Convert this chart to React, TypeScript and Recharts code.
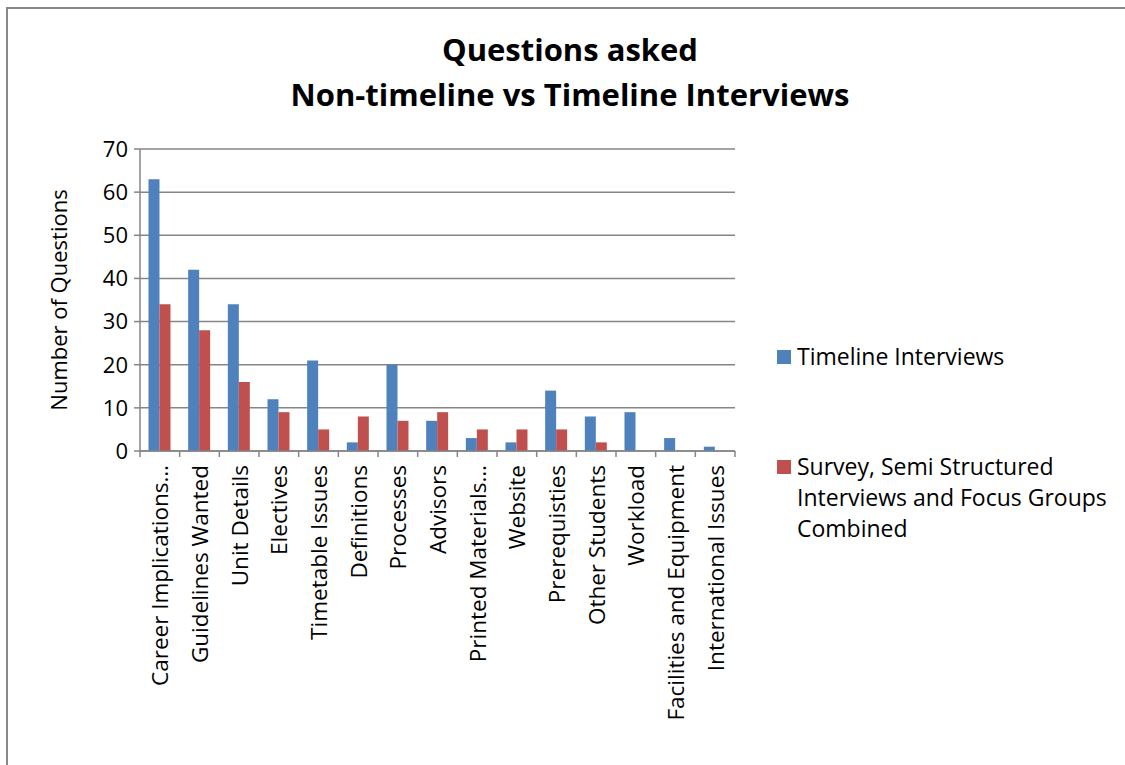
import React from "react";
import { BarChart, Bar, XAxis, YAxis, CartesianGrid, Legend } from "recharts";

// Question topics, in the order they appear along the category axis
const categories = [
  "Career Implications…",
  "Guidelines Wanted",
  "Unit Details",
  "Electives",
  "Timetable Issues",
  "Definitions",
  "Processes",
  "Advisors",
  "Printed Materials…",
  "Website",
  "Prerequisties",
  "Other Students",
  "Workload",
  "Facilities and Equipment",
  "International Issues",
];

// Number of questions per topic for each interview type
const timelineInterviews = [63, 42, 34, 12, 21, 2, 20, 7, 3, 2, 14, 8, 9, 3, 1];
const surveyCombined = [34, 28, 16, 9, 5, 8, 7, 9, 5, 5, 5, 2, 0, 0, 0];

const yTicks = [0, 10, 20, 30, 40, 50, 60, 70];

const seriesKeys = ["timeline", "survey"];
const seriesNames = {
  timeline: "Timeline Interviews",
  survey: "Survey, Semi Structured Interviews and Focus Groups Combined",
};

const data = categories.map((category, i) => ({
  category,
  timeline: timelineInterviews[i],
  survey: surveyCombined[i],
}));

const FONT = "'Open Sans', 'Noto Sans', sans-serif";
const AXIS_GRAY = "#868686";
const BLUE = "#4F81BD";
const RED = "#C0504D";

// Rotated category label plus a tick mark on the boundary between categories
function CategoryTick(props: any) {
  const { x, y, payload, index } = props;
  const half = payload && typeof payload.offset === "number" && payload.offset > 0 ? payload.offset : 19.8;
  const isLast = index === categories.length - 1;
  return (
    <g>
      <line x1={x - half} y1={y} x2={x - half} y2={y + 6} stroke={AXIS_GRAY} strokeWidth={1.5} />
      {isLast && (
        <line x1={x + half} y1={y} x2={x + half} y2={y + 6} stroke={AXIS_GRAY} strokeWidth={1.5} />
      )}
      <text
        x={x}
        y={y + 14}
        transform={`rotate(-90, ${x}, ${y + 14})`}
        textAnchor="end"
        dominantBaseline="central"
        fontFamily={FONT}
        fontSize={22.5}
        fill="#000"
      >
        {payload.value}
      </text>
    </g>
  );
}

function LegendContent(props: any) {
  const items = [...(props.payload || [])].sort(
    (a: any, b: any) => seriesKeys.indexOf(a.dataKey) - seriesKeys.indexOf(b.dataKey)
  );
  return (
    <div style={{ fontFamily: FONT, fontSize: 23, lineHeight: "31px", color: "#000" }}>
      {items.map((item: any, i: number) => (
        <div key={i} style={{ display: "flex", alignItems: "flex-start", marginTop: i === 0 ? 0 : 79 }}>
          <div
            style={{
              width: 14,
              height: 14,
              marginTop: 9,
              marginRight: 6,
              background: item.color,
              flex: "0 0 auto",
            }}
          />
          <div style={{ width: 322 }}>{item.value}</div>
        </div>
      ))}
    </div>
  );
}

function YAxisTitle(props: any) {
  const vb = props.viewBox || { x: 80, y: 149, width: 60, height: 302 };
  const cy = vb.y + vb.height / 2;
  const cx = 58;
  return (
    <text
      x={cx}
      y={cy}
      transform={`rotate(-90, ${cx}, ${cy})`}
      textAnchor="middle"
      dominantBaseline="central"
      fontFamily={FONT}
      fontSize={22}
      fill="#000"
    >
      Number of Questions
    </text>
  );
}

export default function App() {
  return (
    <div
      style={{
        position: "absolute",
        left: 0,
        top: 0,
        width: 1125,
        height: 765,
        overflow: "hidden",
        background: "#fff",
      }}
    >
      <div
        style={{
          position: "absolute",
          left: 6,
          top: 7,
          width: 1200,
          height: 900,
          border: "2px solid #888",
          boxSizing: "border-box",
        }}
      />
      <div
        style={{
          position: "absolute",
          left: 0,
          top: 27,
          width: 1140,
          textAlign: "center",
          fontFamily: FONT,
          fontWeight: 700,
          fontSize: 31,
          lineHeight: "45px",
          color: "#000",
        }}
      >
        <div>Questions asked</div>
        <div>Non-timeline vs Timeline Interviews</div>
      </div>
      <div style={{ position: "absolute", left: 0, top: 0 }}>
        <BarChart
          width={1125}
          height={765}
          data={data}
          margin={{ top: 149, right: 390, bottom: 64, left: 80 }}
          barCategoryGap="21.4%"
          barGap={0}
        >
          <CartesianGrid vertical={false} stroke={AXIS_GRAY} strokeWidth={1.5} />
          <XAxis
            dataKey="category"
            interval={0}
            height={250}
            tickSize={0}
            tickMargin={0}
            tickLine={false}
            axisLine={{ stroke: AXIS_GRAY, strokeWidth: 1.5 }}
            tick={<CategoryTick />}
          />
          <YAxis
            width={60}
            domain={[0, 70]}
            ticks={yTicks}
            interval={0}
            tickSize={6}
            tickMargin={6}
            axisLine={{ stroke: AXIS_GRAY, strokeWidth: 1.5 }}
            tickLine={{ stroke: AXIS_GRAY, strokeWidth: 1.5 }}
            tick={{ fontFamily: FONT, fontSize: 22, fill: "#000" }}
            label={<YAxisTitle />}
          />
          <Legend
            layout="vertical"
            align="center"
            verticalAlign="middle"
            wrapperStyle={{ position: "absolute", left: 777, top: 341, width: 345 }}
            content={<LegendContent />}
          />
          <Bar dataKey="timeline" name={seriesNames.timeline} fill={BLUE} isAnimationActive={false} />
          <Bar dataKey="survey" name={seriesNames.survey} fill={RED} isAnimationActive={false} />
        </BarChart>
      </div>
    </div>
  );
}
